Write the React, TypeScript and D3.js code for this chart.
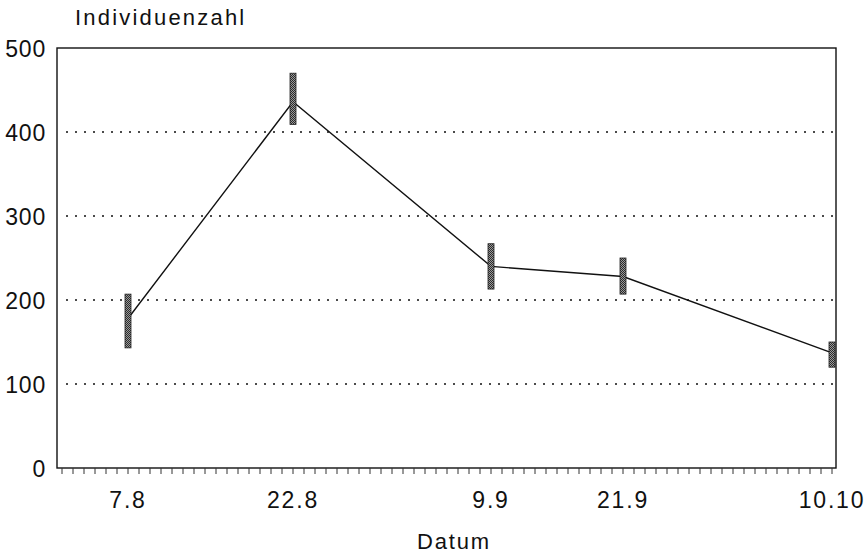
import * as d3 from "d3";

const dates = ["1990-08-07", "1990-08-22", "1990-09-09", "1990-09-21", "1990-10-10"];
const dateLabels = ["7.8", "22.8", "9.9", "21.9", "10.10"];
const means = [178, 436, 240, 228, 137];
const lows = [143, 409, 213, 207, 120];
const highs = [207, 470, 267, 250, 150];
const yTicks = [0, 100, 200, 300, 400, 500];
const gridTicks = [100, 200, 300, 400];

const parse = d3.timeParse("%Y-%m-%d");

export default function App() {
  const width = 865;
  const height = 556;
  const left = 57;
  const right = 836;
  const top = 48;
  const bottom = 468;

  const x = d3
    .scaleTime()
    .domain([parse("1990-08-01")!, parse("1990-10-10")!])
    .range([62, 832]);
  const y = d3.scaleLinear().domain([0, 500]).range([bottom, top]);

  const days = d3.timeDay.range(parse("1990-08-01")!, d3.timeDay.offset(parse("1990-10-10")!, 1));

  const pts = dates.map((d, i) => ({ date: parse(d)!, mean: means[i], lo: lows[i], hi: highs[i], label: dateLabels[i] }));

  const line = d3
    .line<{ date: Date; mean: number }>()
    .x((d) => x(d.date))
    .y((d) => y(d.mean));

  const font = "'Liberation Sans', Arial, Helvetica, sans-serif";

  return (
    <svg
      width={width}
      height={height}
      style={{ position: "absolute", left: 0, top: 0, background: "#fff" }}
      fontFamily={font}
    >
      <defs>
        <pattern id="stip" width="2" height="2" patternUnits="userSpaceOnUse">
          <rect width="2" height="2" fill="#9a9a9a" />
          <rect width="1" height="1" fill="#2a2a2a" />
          <rect x="1" y="1" width="1" height="1" fill="#2a2a2a" />
        </pattern>
      </defs>

      {/* grid */}
      {gridTicks.map((t) => (
        <line
          key={t}
          x1={66}
          x2={right - 2}
          y1={y(t)}
          y2={y(t)}
          stroke="#111"
          strokeWidth={1.6}
          strokeDasharray="2,7"
        />
      ))}

      {/* frame */}
      <rect x={left} y={top} width={right - left} height={bottom - top} fill="none" stroke="#111" strokeWidth={1.4} />

      {/* day ticks */}
      {days.map((d, i) => (
        <line key={i} x1={x(d)} x2={x(d)} y1={bottom} y2={bottom + 6} stroke="#333" strokeWidth={1} />
      ))}

      {/* y labels */}
      {yTicks.map((t) => (
        <text key={t} x={46} y={y(t) + 9} textAnchor="end" fontSize={23} letterSpacing={0.8} fill="#111">
          {t}
        </text>
      ))}

      {/* x labels */}
      {pts.map((p) => (
        <text key={p.label} x={x(p.date)} y={508} textAnchor="middle" fontSize={23} letterSpacing={1.8} fill="#111">
          {p.label}
        </text>
      ))}

      <text x={75} y={25} fontSize={22} letterSpacing={2.2} fill="#111">
        Individuenzahl
      </text>
      <text x={454} y={549} textAnchor="middle" fontSize={22} letterSpacing={1.8} fill="#111">
        Datum
      </text>

      {/* mean line */}
      <path d={line(pts) ?? ""} fill="none" stroke="#111" strokeWidth={1.4} />

      {/* range bars */}
      {pts.map((p) => (
        <rect
          key={p.label}
          x={x(p.date) - 3}
          y={y(p.hi)}
          width={6}
          height={y(p.lo) - y(p.hi)}
          fill="url(#stip)"
          stroke="#222"
          strokeWidth={0.8}
        />
      ))}
    </svg>
  );
}
